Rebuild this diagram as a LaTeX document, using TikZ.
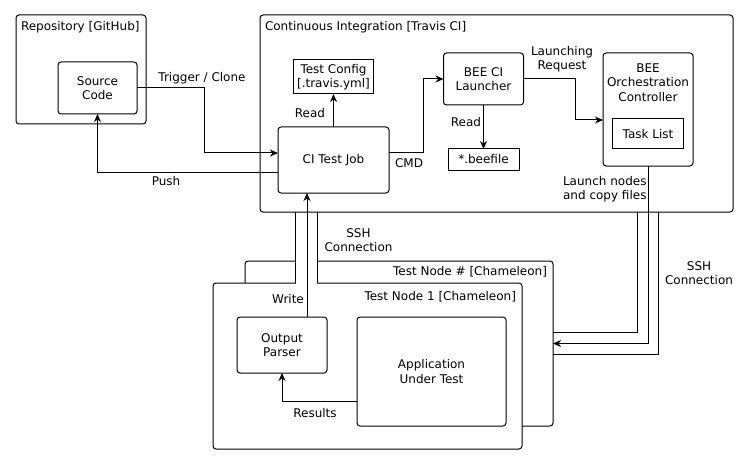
\documentclass[tikz,border=0pt]{standalone}
\usepackage{fontspec}
\setmainfont{DejaVu Sans}
\usetikzlibrary{arrows.meta}
\begin{document}
\begin{tikzpicture}[x=1pt,y=-1pt,
  every node/.style={font=\fontsize{12}{14.2}\selectfont, inner sep=0pt, outer sep=0pt},
  rbox/.style={draw, line width=1pt, rounded corners=3pt, fill=white, align=center},
  sbox/.style={draw, line width=1pt, fill=white, align=center},
  lbl/.style={align=center},
  conn/.style={line width=1pt},
  arr/.style={line width=1pt, -{Stealth[length=8pt,width=7pt,inset=2.5pt]}}]
\useasboundingbox (0,0) rectangle (751,465);
% containers
\node[rbox, minimum width=130pt, minimum height=109pt] (repo) at (81,69.5) {};
\node[anchor=west] (repoT) at (21,27) {Repository [GitHub]};
\node[rbox, minimum width=473pt, minimum height=197pt] (ci) at (496.5,113.5) {};
\node[anchor=west] (ciT) at (265,27) {Continuous Integration [Travis CI]};
\node[rbox, minimum width=308pt, minimum height=165pt] (tnh) at (399,343.5) {};
\node[anchor=east] (tnhT) at (547,272) {Test Node \# [Chameleon]};
\node[rbox, minimum width=309pt, minimum height=166pt] (tn1) at (367.5,366) {};
\node[anchor=east] (tn1T) at (516,297) {Test Node 1 [Chameleon]};
% inner boxes
\node[rbox, minimum width=79pt, minimum height=52pt] (src) at (97.5,88) {Source\\Code};
\node[sbox, minimum width=80pt, minimum height=34pt] (cfg) at (333.5,77) {Test Config\\{[}.travis.yml{]}};
\node[rbox, minimum width=111pt, minimum height=66pt] (job) at (333.5,160) {CI Test Job};
\node[rbox, minimum width=80pt, minimum height=52pt] (lau) at (483.5,79) {BEE CI\\Launcher};
\node[sbox, minimum width=71pt, minimum height=21pt] (bee) at (483.5,159.5) {*.beefile};
\node[rbox, minimum width=90pt, minimum height=113pt] (orc) at (648,109.5) {};
\node[anchor=north, align=center] (orcT) at (648,64) {BEE\\Orchestration\\Controller};
\node[sbox, minimum width=71pt, minimum height=30pt] (task) at (648,134) {Task List};
\node[rbox, minimum width=90pt, minimum height=56pt] (out) at (282,345) {Output\\Parser};
\node[rbox, minimum width=149pt, minimum height=109pt] (app) at (431.5,371.5) {Application\\Under Test};
% left SSH pipe
\fill[white] (295.5,213) rectangle (316.5,284);
\draw[conn] (295,212) -- (295,283);
\draw[conn] (317,212) -- (317,283);
% right SSH pipe
\draw[conn] ([xshift=-10.5pt]orc.south |- ci.south) |- ([yshift=11pt]tnh.east);
\draw[conn] ([xshift=10.5pt]orc.south |- ci.south) |- ([yshift=-10.5pt]tnh.east);
% connectors
\draw[arr] (src.east) -| (204,153) -- ([yshift=7pt]job.west);
\draw[arr] ([yshift=-12pt]job.west) -| (src.south);
\draw[arr] (job.north) -- (cfg.south);
\draw[arr] ([yshift=7pt]job.east) -- (423,153) |- (lau.west);
\draw[arr] (lau.south) -- (bee.north);
\draw[arr] (lau.east) -| (575,120) -- ([yshift=-10.5pt]orc.west);
\draw[arr] (orc.south) |- (tnh.east);
\draw[arr] ([xshift=25pt]out.north) -- ([xshift=25pt]out.north |- job.south);
\draw[arr] ([yshift=-29.5pt]app.west) -| (out.south);
% labels
\node[lbl] (l1) at (202,78) {Trigger / Clone};
\node[lbl] (l2) at (166,181) {Push};
\node[lbl] (l3) at (310,113) {Read};
\node[lbl] (l4) at (409,163) {CMD};
\node[lbl] (l5) at (466,122) {Read};
\node[lbl] (l6) at (562,59.5) {Launching\\Request};
\node[anchor=east, align=right] (l7) at (646.5,189) {Launch nodes\\and copy files};
\node[lbl] (l8) at (358.5,240) {SSH\\Connection};
\node[lbl] (l9) at (699,273) {SSH\\Connection};
\node[lbl] (l10) at (288,299) {Write};
\node[lbl] (l11) at (315,413) {Results};
\end{tikzpicture}
\end{document}
